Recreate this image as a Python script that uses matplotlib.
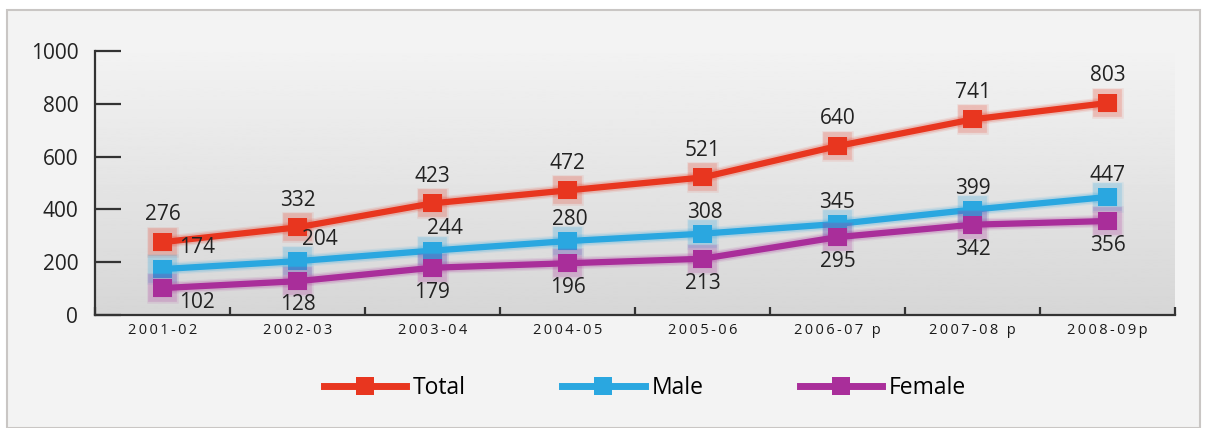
import matplotlib.pyplot as plt
import matplotlib.patheffects as pe
import numpy as np
from matplotlib.lines import Line2D
from matplotlib.patches import Rectangle

plt.rcParams['font.family'] = ['Open Sans', 'DejaVu Sans']

years = ["2001-02", "2002-03", "2003-04", "2004-05", "2005-06",
         "2006-07 p", "2007-08 p", "2008-09p"]
total = [276, 332, 423, 472, 521, 640, 741, 803]
male = [174, 204, 244, 280, 308, 345, 399, 447]
female = [102, 128, 179, 196, 213, 295, 342, 356]

c_total = '#e8361f'
c_male = '#2aa7e0'
c_female = '#a92e9a'

fig = plt.figure(figsize=(12.17, 4.28), dpi=100)
fig.patch.set_facecolor('white')

# light panel behind the whole chart
panel = Rectangle((7 / 1217, 0), 1193 / 1217, 1 - 10 / 428, transform=fig.transFigure,
                  facecolor='#f3f3f3', edgecolor='#c9c6c4', linewidth=1.5, zorder=-10)
fig.patches.append(panel)

ax = fig.add_axes([95 / 1217, 1 - 315 / 428, 1080 / 1217, 264 / 428])
ax.set_facecolor('none')

x = np.arange(len(years))
ax.set_xlim(-0.5, len(years) - 0.5)
ax.set_ylim(0, 1000)

# grey gradient in the plotting area
grad = np.linspace(0.84, 0.95, 256).reshape(-1, 1)
ax.imshow(grad, extent=(-0.5, len(years) - 0.5, 1000, 0), aspect='auto',
          cmap='gray', vmin=0, vmax=1, zorder=0)


def glow(c):
    return [pe.Stroke(linewidth=9, foreground=c, alpha=0.10),
            pe.Stroke(linewidth=7, foreground=c, alpha=0.18),
            pe.Normal()]


for vals, col in [(total, c_total), (male, c_male), (female, c_female)]:
    ax.plot(x, vals, color=col, linewidth=4.5, marker='s', markersize=13,
            markeredgewidth=0, solid_capstyle='butt', zorder=3,
            path_effects=glow(col))

# value labels
lab = dict(textcoords='offset points', ha='center', fontsize=15, color='#222222')
for xi, v in zip(x, total):
    ax.annotate(str(v), (xi, v), xytext=(0, 12), va='bottom', **lab)
male_dx = [25, 16, 9, 2, 2, 0, 0, 0]
for xi, v, dx in zip(x, male, male_dx):
    ax.annotate(str(v), (xi, v), xytext=(dx, 8), va='bottom', **lab)
female_dx = [25, 0, 0, 0, 0, 0, 0, 0]
female_dy = [-3, -9, -10, -10, -10, -10, -10, -10]
for xi, v, dx, dy in zip(x, female, female_dx, female_dy):
    ax.annotate(str(v), (xi, v), xytext=(dx, dy), va='top', **lab)

# axes styling
for s in ['top', 'right']:
    ax.spines[s].set_visible(False)
for s in ['left', 'bottom']:
    ax.spines[s].set_color('#333333')
    ax.spines[s].set_linewidth(1.6)

ax.set_yticks([0, 200, 400, 600, 800, 1000])
ax.tick_params(axis='y', direction='in', length=19, width=1.6, color='#333333',
               labelsize=15, labelcolor='#222222', pad=12)

ax.set_xticks(x)
ax.set_xticklabels(['\u2009'.join(y) for y in years], fontsize=10.5, color='#1a1a1a')
ax.tick_params(axis='x', length=0, pad=6)
ax.set_xticks(np.arange(len(years) + 1) - 0.5, minor=True)
ax.tick_params(axis='x', which='minor', direction='in', length=6, width=1.6,
               color='#333333')

handles = [
    Line2D([], [], color=c, linewidth=5, marker='s', markersize=13, markeredgewidth=0)
    for c in (c_total, c_male, c_female)
]
fig.legend(handles, ['Total', 'Male', 'Female'], loc='center',
           bbox_to_anchor=(645 / 1217, 1 - 388 / 428), ncol=3, frameon=False,
           fontsize=16.5, handlelength=3.6, handletextpad=0.3, columnspacing=4.2)

fig.savefig('out.png', dpi=100)
